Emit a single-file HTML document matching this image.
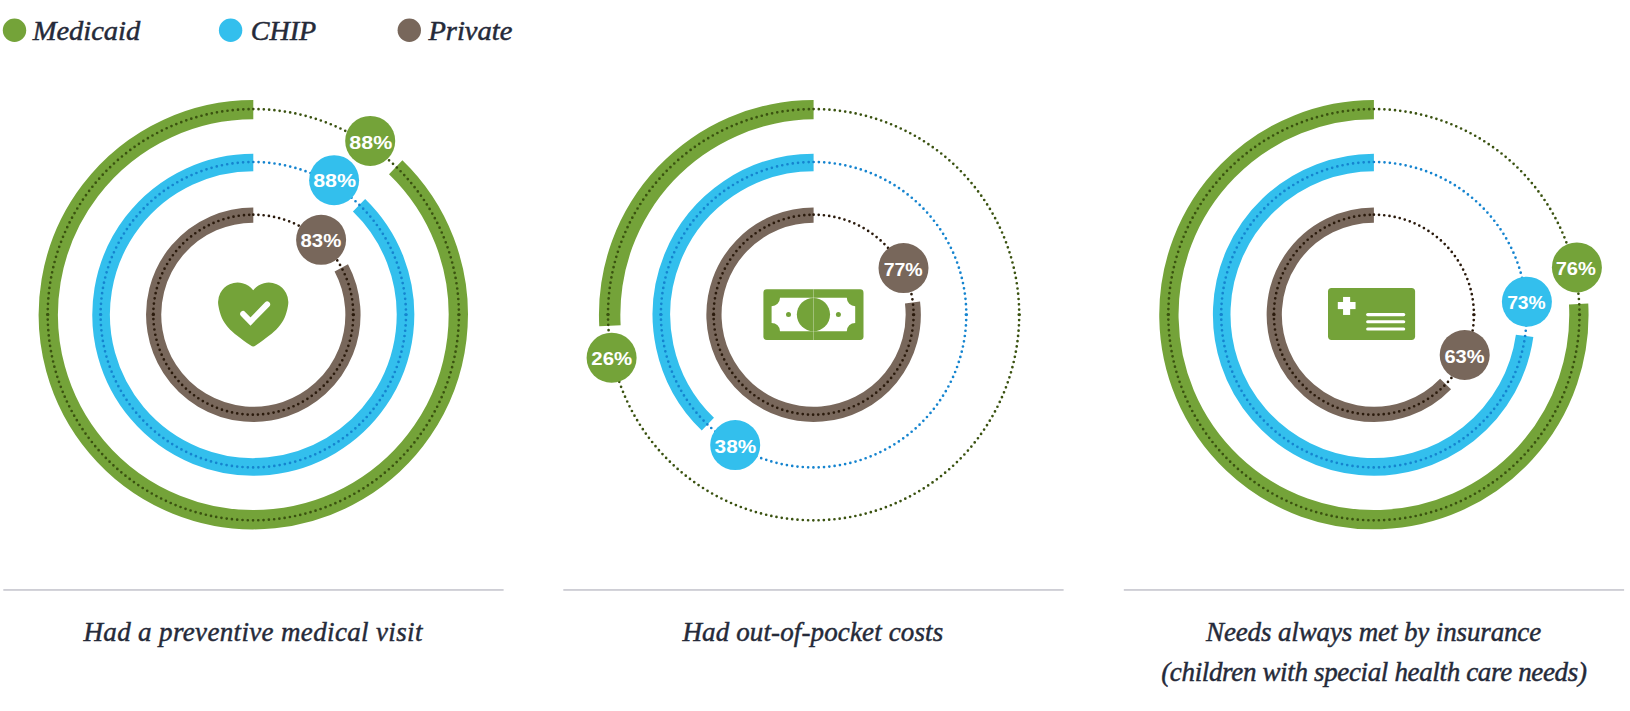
<!DOCTYPE html>
<html lang="en"><head><meta charset="utf-8"><title>Coverage comparison</title>
<style>
html,body{margin:0;padding:0;background:#fff}
body{width:1630px;height:711px;overflow:hidden}
svg{display:block}
.lab{font-family:"Liberation Serif",serif;font-style:italic;font-size:27px;fill:#252a39;stroke:#252a39;stroke-width:.45px}
.leg{font-family:"Liberation Serif",serif;font-style:italic;font-size:27.8px;fill:#252a39;stroke:#252a39;stroke-width:.5px}
.pct{font-family:"Liberation Sans",sans-serif;font-weight:bold;font-size:19.2px;fill:#fff;text-anchor:middle}
</style></head><body>
<svg width="1630" height="711" viewBox="0 0 1630 711">
<rect width="1630" height="711" fill="#fff"/>
<circle cx="14.5" cy="30.2" r="11.7" fill="#74a339"/>
<text class="leg" x="32.7" y="40" textLength="107.6" lengthAdjust="spacingAndGlyphs">Medicaid</text>
<circle cx="230.6" cy="30.2" r="11.7" fill="#33bfed"/>
<text class="leg" x="250.7" y="40" textLength="65.5" lengthAdjust="spacingAndGlyphs">CHIP</text>
<circle cx="409.3" cy="30.2" r="11.7" fill="#78675b"/>
<text class="leg" x="428.4" y="40" textLength="83.9" lengthAdjust="spacingAndGlyphs">Private</text>
<g>
<path d="M253.30 109.70 A205.00 205.00 0 1 0 395.70 167.24" fill="none" stroke="#74a339" stroke-width="19.3"/>
<path d="M253.30 162.50 A152.20 152.20 0 1 0 359.03 205.22" fill="none" stroke="#33bfed" stroke-width="17.6"/>
<path d="M253.30 215.05 A99.65 99.65 0 1 0 341.29 267.92" fill="none" stroke="#78675b" stroke-width="15.2"/>
<circle cx="253.30" cy="314.70" r="205.60" fill="none" stroke="#3a5210" stroke-width="2.7" stroke-linecap="round" stroke-dasharray="0 5.2944" transform="rotate(-90 253.30 314.70)"/>
<circle cx="253.30" cy="314.70" r="152.70" fill="none" stroke="#1584cf" stroke-width="2.7" stroke-linecap="round" stroke-dasharray="0 5.3302" transform="rotate(-90 253.30 314.70)"/>
<circle cx="253.30" cy="314.70" r="100.00" fill="none" stroke="#2a1a0c" stroke-width="2.7" stroke-linecap="round" stroke-dasharray="0 5.2360" transform="rotate(-90 253.30 314.70)"/>
<ellipse cx="47.70" cy="314.70" rx="1.75" ry="1.4" fill="#3a5210"/>
<ellipse cx="458.90" cy="314.70" rx="1.75" ry="1.4" fill="#3a5210"/>
<ellipse cx="100.60" cy="314.70" rx="1.75" ry="1.4" fill="#1584cf"/>
<ellipse cx="406.00" cy="314.70" rx="1.75" ry="1.4" fill="#1584cf"/>
<ellipse cx="153.30" cy="314.70" rx="1.75" ry="1.4" fill="#2a1a0c"/>
<ellipse cx="353.30" cy="314.70" rx="1.75" ry="1.4" fill="#2a1a0c"/>
<circle cx="370.2" cy="140.9" r="25" fill="#74a339"/>
<text class="pct" x="370.8" y="148.5" textLength="42.9" lengthAdjust="spacingAndGlyphs">88%</text>
<circle cx="334.1" cy="180.2" r="25" fill="#33bfed"/>
<text class="pct" x="334.6" y="187.4" textLength="42.9" lengthAdjust="spacingAndGlyphs">88%</text>
<circle cx="321.1" cy="239.8" r="25" fill="#78675b"/>
<text class="pct" x="320.9" y="246.6" textLength="40.7" lengthAdjust="spacingAndGlyphs">83%</text>
</g>
<g>
<path d="M813.60 100.05 A214.65 214.65 0 0 0 599.26 326.31 L620.64 325.26 A195.35 195.35 0 0 1 813.60 119.36 Z" fill="#74a339"/>
<path d="M813.60 162.50 A152.20 152.20 0 0 0 707.87 424.18" fill="none" stroke="#33bfed" stroke-width="17.6"/>
<path d="M813.60 215.05 A99.65 99.65 0 1 0 912.50 302.47" fill="none" stroke="#78675b" stroke-width="15.2"/>
<circle cx="813.60" cy="314.70" r="205.60" fill="none" stroke="#3a5210" stroke-width="2.7" stroke-linecap="round" stroke-dasharray="0 5.2944" transform="rotate(-90 813.60 314.70)"/>
<circle cx="813.60" cy="314.70" r="152.70" fill="none" stroke="#1584cf" stroke-width="2.7" stroke-linecap="round" stroke-dasharray="0 5.3302" transform="rotate(-90 813.60 314.70)"/>
<circle cx="813.60" cy="314.70" r="100.00" fill="none" stroke="#2a1a0c" stroke-width="2.7" stroke-linecap="round" stroke-dasharray="0 5.2360" transform="rotate(-90 813.60 314.70)"/>
<ellipse cx="608.00" cy="314.70" rx="1.75" ry="1.4" fill="#3a5210"/>
<ellipse cx="1019.20" cy="314.70" rx="1.75" ry="1.4" fill="#3a5210"/>
<ellipse cx="660.90" cy="314.70" rx="1.75" ry="1.4" fill="#1584cf"/>
<ellipse cx="966.30" cy="314.70" rx="1.75" ry="1.4" fill="#1584cf"/>
<ellipse cx="713.60" cy="314.70" rx="1.75" ry="1.4" fill="#2a1a0c"/>
<ellipse cx="913.60" cy="314.70" rx="1.75" ry="1.4" fill="#2a1a0c"/>
<circle cx="611.6" cy="357.7" r="25" fill="#74a339"/>
<text class="pct" x="611.8" y="365.0" textLength="40.9" lengthAdjust="spacingAndGlyphs">26%</text>
<circle cx="735.2" cy="445.1" r="25" fill="#33bfed"/>
<text class="pct" x="735.4" y="452.9" textLength="41.6" lengthAdjust="spacingAndGlyphs">38%</text>
<circle cx="903.5" cy="268.1" r="25" fill="#78675b"/>
<text class="pct" x="903.2" y="275.7" textLength="39.1" lengthAdjust="spacingAndGlyphs">77%</text>
</g>
<g>
<path d="M1373.90 109.70 A205.00 205.00 0 1 0 1578.62 303.97" fill="none" stroke="#74a339" stroke-width="19.3"/>
<path d="M1373.90 162.50 A152.20 152.20 0 1 0 1524.62 335.88" fill="none" stroke="#33bfed" stroke-width="17.6"/>
<path d="M1373.90 215.05 A99.65 99.65 0 1 0 1445.58 383.92" fill="none" stroke="#78675b" stroke-width="15.2"/>
<circle cx="1373.90" cy="314.70" r="205.60" fill="none" stroke="#3a5210" stroke-width="2.7" stroke-linecap="round" stroke-dasharray="0 5.2944" transform="rotate(-90 1373.90 314.70)"/>
<circle cx="1373.90" cy="314.70" r="152.70" fill="none" stroke="#1584cf" stroke-width="2.7" stroke-linecap="round" stroke-dasharray="0 5.3302" transform="rotate(-90 1373.90 314.70)"/>
<circle cx="1373.90" cy="314.70" r="100.00" fill="none" stroke="#2a1a0c" stroke-width="2.7" stroke-linecap="round" stroke-dasharray="0 5.2360" transform="rotate(-90 1373.90 314.70)"/>
<ellipse cx="1168.30" cy="314.70" rx="1.75" ry="1.4" fill="#3a5210"/>
<ellipse cx="1579.50" cy="314.70" rx="1.75" ry="1.4" fill="#3a5210"/>
<ellipse cx="1221.20" cy="314.70" rx="1.75" ry="1.4" fill="#1584cf"/>
<ellipse cx="1526.60" cy="314.70" rx="1.75" ry="1.4" fill="#1584cf"/>
<ellipse cx="1273.90" cy="314.70" rx="1.75" ry="1.4" fill="#2a1a0c"/>
<ellipse cx="1473.90" cy="314.70" rx="1.75" ry="1.4" fill="#2a1a0c"/>
<circle cx="1576.9" cy="267.4" r="25" fill="#74a339"/>
<text class="pct" x="1575.8" y="275.0" textLength="40.2" lengthAdjust="spacingAndGlyphs">76%</text>
<circle cx="1526.9" cy="301.7" r="25" fill="#33bfed"/>
<text class="pct" x="1526.4" y="308.9" textLength="38.5" lengthAdjust="spacingAndGlyphs">73%</text>
<circle cx="1464.7" cy="355.0" r="25" fill="#78675b"/>
<text class="pct" x="1464.5" y="362.7" textLength="40.1" lengthAdjust="spacingAndGlyphs">63%</text>
</g>
<g transform="translate(253.2 314.5)">
<path d="M0 -24.3 A19.6 19.6 0 0 1 34.8 -8.8 C31.46 10.13 23.29 16.29 2.4 31.05 Q0 33.1 -2.4 31.05 C-23.29 16.29 -31.46 10.13 -34.8 -8.8 A19.6 19.6 0 0 1 0 -24.3 Z" fill="#74a339"/>
<path d="M-10.1 -0.6 L-2.7 7.0 L14.0 -10.1" fill="none" stroke="#fff" stroke-width="5.8" stroke-linecap="round" stroke-linejoin="miter"/>
</g>
<g>
<rect x="763.4" y="289.3" width="100.1" height="50.7" rx="3.4" fill="#74a339"/>
<path d="M780.00 297.85 H846.80 A8.4 8.4 0 0 0 855.20 306.25 V322.90 A8.4 8.4 0 0 0 846.80 331.30 H780.00 A8.4 8.4 0 0 0 771.60 322.90 V306.25 A8.4 8.4 0 0 0 780.00 297.85 Z" fill="#fff"/>
<circle cx="813.45" cy="314.6" r="16.6" fill="#74a339"/>
<circle cx="788.5" cy="314.6" r="2.5" fill="#74a339"/>
<circle cx="838.4" cy="314.6" r="2.5" fill="#74a339"/>
<rect x="813.1" y="289.3" width="0.8" height="50.7" fill="#fff" opacity="0.4"/>
</g>
<g>
<rect x="1328" y="287.95" width="87.1" height="52" rx="3.6" fill="#74a339"/>
<rect x="1343.05" y="296.95" width="7.1" height="18" fill="#fff"/>
<rect x="1337.8" y="302" width="17.75" height="7.1" fill="#fff"/>
<line x1="1367.7" y1="314.6" x2="1403.7" y2="314.6" stroke="#fff" stroke-width="3.15" stroke-linecap="round"/>
<line x1="1367.7" y1="321.7" x2="1403.7" y2="321.7" stroke="#fff" stroke-width="3.15" stroke-linecap="round"/>
<line x1="1367.7" y1="329.0" x2="1403.7" y2="329.0" stroke="#fff" stroke-width="3.15" stroke-linecap="round"/>
</g>
<rect x="3.3" y="589.2" width="500.3" height="1.5" fill="#c2c2cb"/>
<rect x="563.3" y="589.2" width="500.3" height="1.5" fill="#c2c2cb"/>
<rect x="1123.8" y="589.2" width="500.3" height="1.5" fill="#c2c2cb"/>
<text class="lab" x="83.5" y="640.6" textLength="338.9" lengthAdjust="spacing">Had a preventive medical visit</text>
<text class="lab" x="682.5" y="640.6" textLength="260.7" lengthAdjust="spacing">Had out-of-pocket costs</text>
<text class="lab" x="1206" y="640.6" textLength="335.2" lengthAdjust="spacing">Needs always met by insurance</text>
<text class="lab" x="1161.2" y="681" textLength="425.7" lengthAdjust="spacing">(children with special health care needs)</text>
</svg></body></html>
